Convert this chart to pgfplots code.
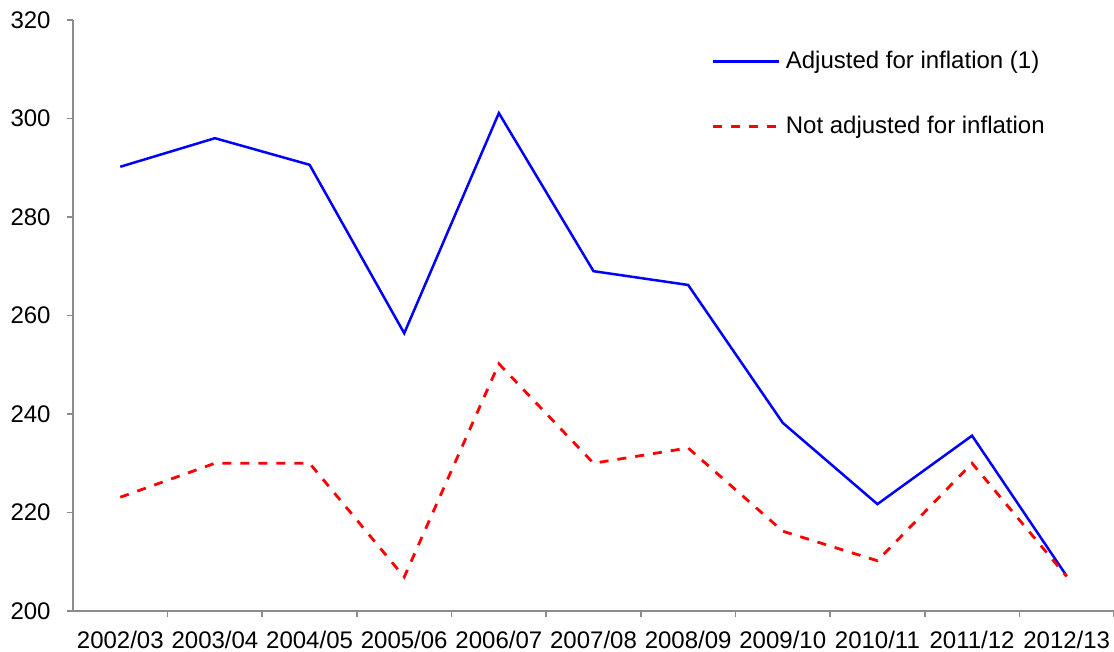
\documentclass[border=0pt]{standalone}
\usepackage{fontspec}
\setmainfont{Liberation Sans}
\usepackage{pgfplots}
\pgfplotsset{compat=1.18}

\definecolor{axisgray}{RGB}{140,140,140}
\definecolor{serblue}{RGB}{0,0,255}
\definecolor{serred}{RGB}{255,0,0}

\begin{document}
\fontsize{12pt}{14pt}\selectfont
\begin{tikzpicture}
\useasboundingbox (-36.5pt,-20.5pt) rectangle (520.5pt,305.5pt);
\begin{axis}[
  at={(0pt,0pt)}, anchor=south west,
  scale only axis,
  width=520.5pt, height=295.5pt,
  xmin=-0.5, xmax=10.5,
  ymin=200, ymax=320,
  ytick={200,220,...,320},
  xtick={0,...,10},
  xticklabels={2002/03,2003/04,2004/05,2005/06,2006/07,2007/08,2008/09,2009/10,2010/11,2011/12,2012/13},
  minor xtick={0.5,1.5,...,10.5},
  major x tick style={draw=none},
  axis x line*=bottom,
  axis y line*=left,
  axis line style={axisgray, line width=0.8pt, -},
  tick style={axisgray, line width=0.8pt},
  tick align=outside,
  major tick length=3pt,
  minor tick length=3pt,
  tick label style={font=\fontsize{12pt}{14pt}\selectfont, text=black},
  xticklabel style={yshift=-3pt},
  yticklabel style={xshift=-4pt},
  /pgf/number format/assume math mode=true,
  clip=false,
  legend cell align=left,
  legend style={
    at={(0.6135,0.957)}, anchor=north west,
    draw=none, fill=none,
    font=\fontsize{12pt}{14pt}\selectfont,
    row sep=17pt,
    inner sep=0pt,
    nodes={inner sep=2.5pt},
  },
  legend image code/.code={
    \draw[#1] (0pt,0pt) -- (33pt,0pt);
  },
]
\addplot[serblue, line width=1.25pt] coordinates {
  (0,290.2) (1,296.0) (2,290.6) (3,256.4) (4,301.1) (5,269.0)
  (6,266.2) (7,238.2) (8,221.7) (9,235.6) (10,207.1)
};
\addlegendentry{Adjusted for inflation (1)}
\addplot[serred, line width=1.4pt, dash pattern=on 4.5pt off 4.5pt] coordinates {
  (0,223.1) (1,230.0) (2,230.0) (3,206.9) (4,250.2) (5,230.0)
  (6,233.1) (7,216.2) (8,210.2) (9,230.0) (10,207.0)
};
\addlegendentry{Not adjusted for inflation}
\end{axis}
\end{tikzpicture}
\end{document}
